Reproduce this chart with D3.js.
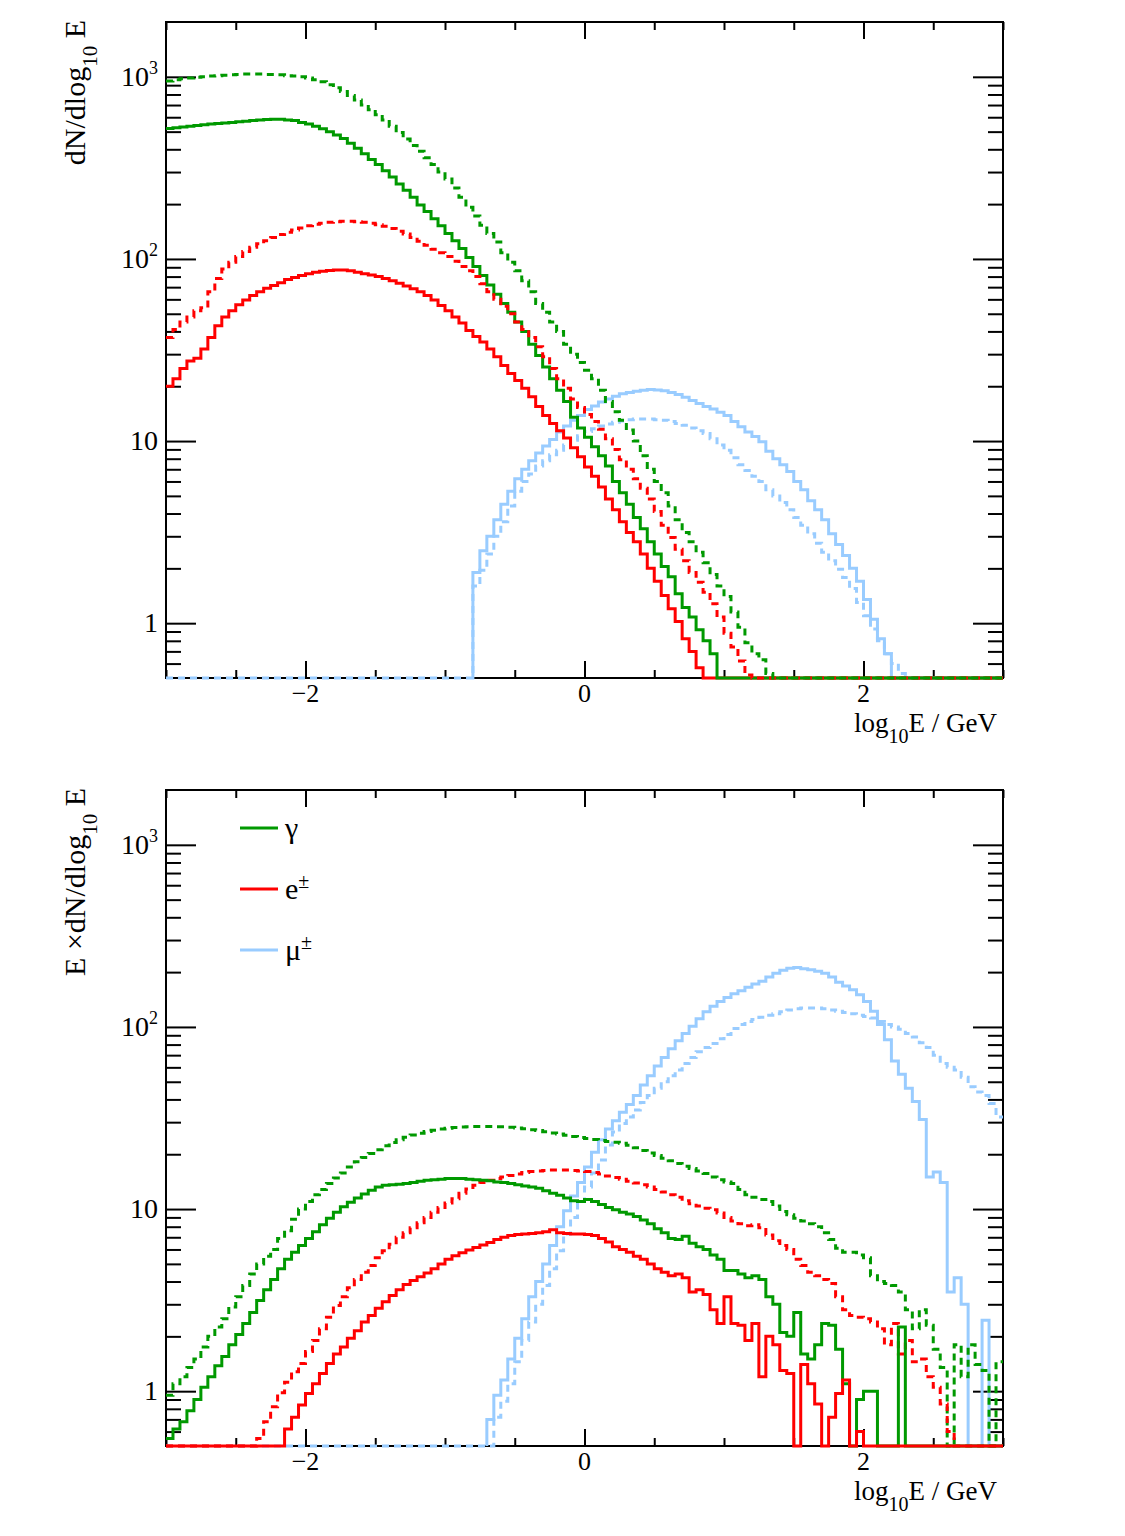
<!DOCTYPE html>
<html>
<head>
<meta charset="utf-8">
<script src="https://cdn.jsdelivr.net/npm/d3@7"></script>
<style>
  body { margin: 0; background: #fff; }
  text { font-family: "Liberation Serif", "DejaVu Serif", serif; fill: #000; }
</style>
</head>
<body>
<svg id="chart"></svg>
<script>
// canvas size
var width = 1125;
var height = 1536;

// histogram binning in log10(E/GeV)
var binWidth = 0.05;
var xDomain = [-3, 3];
var yDomain = [0.5, 2000];

// axis ticks and labels
var xMajor = [-2, 0, 2];
var xMinor = [-3, -2.5, -1.5, -1, -0.5, 0.5, 1, 1.5, 2.5, 3];
var xLabels = ["\u22122", "0", "2"];
var yMajor = [1, 10, 100, 1000];
var yLabels = [{ base: "1", exp: "" }, { base: "10", exp: "" }, { base: "10", exp: "2" }, { base: "10", exp: "3" }];
var yMinor = [0.6, 0.7, 0.8, 0.9, 2, 3, 4, 5, 6, 7, 8, 9, 20, 30, 40, 50, 60, 70, 80, 90,
              200, 300, 400, 500, 600, 700, 800, 900];

// legend
var legendNames = [{ base: "\u03b3", sup: "" }, { base: "e", sup: "\u00b1" }, { base: "\u03bc", sup: "\u00b1" }];

// ---- upper panel: dN/dlog10E, bins of 0.05 starting at "start" ----
var gamTopSolid = [
  520, 525, 530, 535, 540, 545, 550, 555, 558, 562,
  566, 570, 575, 580, 583, 585, 585, 580, 575, 562,
  550, 535, 518, 500, 480, 458, 432, 405, 378, 352,
  330, 305, 282, 258, 238, 218, 198, 182, 166, 152,
  138, 126, 114, 102, 91, 81, 72, 64, 57, 51,
  45, 40, 34, 29.5, 25.5, 22, 19, 16.5, 13.5, 11.8,
  10.5, 9.3, 8.3, 7.3, 6.0, 5.2, 4.5, 3.8, 3.3, 2.8,
  2.4, 2.05, 1.8, 1.45, 1.22, 1.08, 0.92, 0.8, 0.68, 0,
  0, 0, 0, 0, 0, 0, 0, 0, 0, 0,
  0, 0, 0, 0, 0, 0, 0, 0, 0, 0,
  0, 0, 0, 0, 0, 0, 0, 0, 0, 0,
  0, 0, 0, 0, 0, 0, 0, 0, 0, 0
];
var gamTopDash = [
  950, 965, 975, 985, 995, 1000, 1010, 1015, 1020, 1025,
  1030, 1035, 1035, 1035, 1030, 1030, 1025, 1015, 1010, 1000,
  985, 965, 940, 905, 870, 830, 790, 745, 700, 660,
  620, 580, 535, 495, 455, 420, 390, 360, 330, 300,
  275, 245, 218, 192, 172, 153, 138, 124, 108, 96,
  86, 76, 66, 57, 51, 45, 40, 34, 30, 27,
  24.5, 22, 19, 16.5, 14.5, 13, 11.5, 10, 8.3, 7.0,
  6.0, 5.2, 4.4, 3.7, 3.15, 2.8, 2.45, 2.15, 1.85, 1.6,
  1.4, 1.15, 0.95, 0.78, 0.68, 0.63, 0.53, 0, 0, 0,
  0, 0, 0, 0, 0, 0, 0, 0, 0, 0,
  0, 0, 0, 0, 0, 0, 0, 0, 0, 0,
  0, 0, 0, 0, 0, 0, 0, 0, 0, 0
];
var elTopSolid = [
  20, 22, 25, 27.5, 28.5, 32, 37, 43, 48, 52,
  56, 59.5, 63, 66, 69, 71.5, 74, 77, 79, 81,
  83, 84.5, 85.5, 86.5, 87, 87, 86, 84.5, 83, 81.5,
  80, 78, 76, 73.5, 71, 68.5, 66, 63, 59.5, 55.5,
  52, 48, 44.5, 40.5, 37.5, 35, 32, 29, 26, 23.5,
  21.5, 19.5, 17.5, 15.5, 13.8, 12.5, 11.4, 10.4, 9.2, 8.2,
  7.2, 6.4, 5.6, 4.8, 4.2, 3.6, 3.15, 2.8, 2.4, 2.0,
  1.7, 1.42, 1.2, 1.02, 0.82, 0.7, 0.57, 0, 0, 0,
  0, 0, 0, 0, 0, 0, 0, 0, 0, 0,
  0, 0, 0, 0, 0, 0, 0, 0, 0, 0,
  0, 0, 0, 0, 0, 0, 0, 0, 0, 0,
  0, 0, 0, 0, 0, 0, 0, 0, 0, 0
];
var elTopDash = [
  37, 41, 45, 48, 52, 54, 66, 78, 88, 96,
  103, 110, 116, 121, 126, 131, 136, 140, 144, 148,
  152, 155, 157, 159, 160, 161, 161, 160, 159, 157,
  154, 151, 147, 142, 137, 131, 125, 119, 113, 108,
  103, 97, 91, 86, 80, 73, 66, 60, 55, 50,
  45, 41, 37, 33, 29, 25, 22, 19.5, 17, 15.3,
  14, 12.8, 11.6, 10.3, 9.0, 7.9, 7.0, 6.2, 5.5, 4.8,
  4.1, 3.45, 2.95, 2.55, 2.2, 1.9, 1.68, 1.48, 1.28, 1.08,
  0.88, 0.74, 0.62, 0.52, 0, 0, 0, 0, 0, 0,
  0, 0, 0, 0, 0, 0, 0, 0, 0, 0,
  0, 0, 0, 0, 0, 0, 0, 0, 0, 0,
  0, 0, 0, 0, 0, 0, 0, 0, 0, 0
];
// starts at -0.8
var muTopSolid = [
  1.9, 2.5, 3.0, 3.7, 4.5, 5.3, 6.2, 7.0, 7.8, 8.6,
  9.4, 10.2, 11.2, 12.1, 13.0, 13.8, 14.9, 15.6, 16.4, 17.0,
  17.6, 18.2, 18.5, 18.8, 19.0, 19.2, 19.1, 18.9, 18.5, 18.0,
  17.4, 16.7, 16.1, 15.5, 15.0, 14.4, 13.8, 12.8, 12.0, 11.2,
  10.6, 9.9, 8.8, 8.0, 7.4, 6.8, 6.0, 5.4, 4.7, 4.2,
  3.7, 3.1, 2.7, 2.35, 2.0, 1.7, 1.35, 1.05, 0.82, 0.68,
  0, 0, 0, 0, 0, 0, 0, 0, 0, 0,
  0, 0, 0, 0, 0, 0
];
var muTopDash = [
  0, 0, 0, 0, 0, 0, 0, 0, 0, 0,
  0, 0, 0, 0, 0, 0, 0, 0, 0, 0,
  0, 0, 0, 0, 0, 0, 0, 0, 0, 0,
  0, 0, 0, 0, 0, 0, 0, 0, 0, 0,
  0, 0, 0, 0, 1.6, 1.95, 2.4, 3.0, 3.6, 4.4,
  5.3, 6.0, 6.6, 7.3, 7.8, 8.4, 8.9, 9.5, 10.1, 10.7,
  11.3, 11.7, 12.1, 12.4, 12.7, 12.9, 13.1, 13.2, 13.2, 13.2,
  13.1, 13.0, 12.8, 12.5, 12.2, 11.8, 11.4, 11.0, 10.3, 9.5,
  8.9, 8.1, 7.4, 6.9, 6.4, 6.0, 5.4, 5.0, 4.6, 4.2,
  3.8, 3.45, 3.1, 2.75, 2.45, 2.2, 1.98, 1.78, 1.55, 1.3,
  1.1, 0.93, 0.8, 0.68, 0.6, 0.53, 0, 0, 0, 0,
  0, 0, 0, 0, 0, 0, 0, 0, 0, 0
];

// ---- lower panel: E x dN/dlog10E ----
var gamBotSolid = [
  0.55, 0.62, 0.68, 0.78, 0.9, 1.05, 1.2, 1.38, 1.55, 1.8,
  2.05, 2.35, 2.7, 3.15, 3.6, 4.1, 4.7, 5.3, 5.8, 6.3,
  6.9, 7.5, 8.2, 8.9, 9.6, 10.3, 10.9, 11.5, 12.1, 12.7,
  13.2, 13.5, 13.6, 13.7, 13.8, 14.0, 14.2, 14.4, 14.5, 14.6,
  14.7, 14.7, 14.7, 14.6, 14.5, 14.4, 14.3, 14.1, 14.0, 13.8,
  13.6, 13.4, 13.2, 13.0, 12.6, 12.2, 11.9, 11.5, 11.1, 11.0,
  11.3, 11.0, 10.6, 10.2, 9.9, 9.6, 9.4, 9.1, 8.7, 8.3,
  7.8, 7.4, 6.9, 6.8, 7.1, 6.5, 6.2, 6.0, 5.6, 5.3,
  4.6, 4.6, 4.4, 4.2, 4.3, 4.1, 3.3, 3.0, 2.1, 2.0,
  2.7, 1.6, 1.5, 1.8, 2.35, 2.3, 1.7, 1.1, 0, 0.9,
  1.0, 1.0, 0, 0, 0, 2.25, 0, 0, 0, 0,
  0, 0, 0, 0, 0, 0, 0, 0, 0, 0
];
var gamBotDash = [
  0.95, 1.1, 1.2, 1.35, 1.5, 1.75, 2.0, 2.25, 2.5, 2.9,
  3.3, 3.8, 4.4, 5.0, 5.5, 6.0, 6.9, 7.6, 8.8, 10.0,
  11.0, 12.0, 12.8, 13.8, 14.8, 15.8, 17.0, 18.2, 19.2, 20.2,
  21.2, 22.3, 23.2, 24.0, 24.8, 25.5, 26.1, 26.7, 27.1, 27.5,
  27.8, 28.0, 28.2, 28.3, 28.4, 28.4, 28.4, 28.3, 28.3, 28.1,
  27.9, 27.6, 27.3, 27.0, 26.6, 26.2, 25.8, 25.4, 25.0, 24.7,
  24.4, 24.1, 23.8, 23.5, 23.3, 23.0, 22.4, 21.7, 21.0, 20.3,
  19.7, 19.0, 18.4, 17.8, 17.2, 16.7, 16.2, 15.7, 15.0, 14.5,
  14.1, 13.8, 12.8, 12.0, 11.6, 11.3, 11.0, 10.4, 9.7, 9.3,
  8.9, 8.6, 8.3, 8.0, 7.4, 6.8, 6.1, 5.8, 5.8, 5.6,
  5.4, 4.3, 4.0, 3.9, 3.8, 3.5, 2.8, 2.2, 2.8, 2.3,
  1.7, 1.35, 0, 1.8, 1.2, 1.8, 1.4, 1.3, 0, 1.45
];
var elBotSolid = [
  0, 0, 0, 0, 0, 0, 0, 0, 0, 0,
  0, 0, 0, 0, 0, 0, 0, 0.62, 0.72, 0.84,
  0.97, 1.1, 1.25, 1.42, 1.6, 1.75, 1.95, 2.15, 2.4, 2.6,
  2.85, 3.1, 3.35, 3.6, 3.85, 4.05, 4.25, 4.45, 4.7, 5.0,
  5.3, 5.55, 5.75, 5.95, 6.15, 6.35, 6.55, 6.8, 7.0, 7.15,
  7.25, 7.3, 7.35, 7.4, 7.5, 7.7, 7.4, 7.35, 7.3, 7.3,
  7.25, 7.15, 6.9, 6.6, 6.2, 6.0, 5.8, 5.5, 5.3, 5.0,
  4.7, 4.5, 4.3, 4.4, 4.2, 3.5, 3.6, 3.4, 2.8, 2.35,
  3.3, 2.35, 2.3, 1.9, 2.35, 1.2, 2.0, 1.8, 1.3, 1.25,
  0, 1.4, 1.1, 0.85, 0, 0.72, 0.97, 1.15, 0, 0.6,
  0, 0, 0, 0, 0, 0, 0, 0, 0, 0,
  0, 0, 0, 0, 0, 0, 0, 0, 0, 0
];
var elBotDash = [
  0, 0, 0, 0, 0, 0, 0, 0, 0, 0,
  0, 0, 0, 0.55, 0.68, 0.82, 0.98, 1.12, 1.28, 1.42,
  1.65, 1.9, 2.2, 2.55, 2.95, 3.3, 3.7, 4.1, 4.5, 4.9,
  5.4, 5.9, 6.4, 7.0, 7.4, 7.9, 8.4, 9.0, 9.6, 10.2,
  10.8, 11.4, 12.2, 12.9, 13.5, 14.0, 14.4, 14.7, 15.0, 15.3,
  15.6, 15.9, 16.1, 16.2, 16.3, 16.4, 16.4, 16.4, 16.3, 16.2,
  16.1, 15.9, 15.6, 15.2, 14.9, 14.6, 14.2, 13.9, 13.6, 13.2,
  12.8, 12.4, 12.0, 11.6, 11.1, 10.7, 10.4, 10.1, 9.9, 9.5,
  9.0, 8.6, 8.3, 8.1, 8.2, 7.9, 7.2, 6.7, 6.3, 6.0,
  5.3, 4.9, 4.5, 4.3, 4.1, 3.9, 3.3, 2.8, 2.6, 2.55,
  2.5, 2.4, 2.2, 1.8, 2.35, 1.6, 1.9, 1.45, 1.5, 1.2,
  1.05, 0.85, 0.6, 0, 0, 0, 0, 0, 0, 0
];
// starts at -0.7
var muBotSolid = [
  0.7, 0.95, 1.15, 1.5, 1.95, 2.5, 3.3, 4.0, 5.0, 6.3,
  8.0, 9.8, 11.8, 14.0, 17.0, 20.5, 24.0, 27.5, 30.5, 34,
  37.5, 42, 48, 54, 61, 68, 76, 84, 92, 101,
  111, 121, 130, 138, 145, 152, 158, 165, 172, 178,
  188, 197, 205, 210, 212, 209, 206, 202, 197, 188,
  176, 168, 160, 150, 138, 122, 103, 85, 65, 55,
  46, 39, 31, 15, 16, 14, 3.5, 4.2, 3.0, 0,
  0, 2.45, 0, 0
];
var muBotDash = [
  0, 0, 0, 0, 0, 0, 0, 0, 0, 0,
  0, 0, 0, 0, 0, 0, 0, 0, 0, 0,
  0, 0, 0, 0, 0, 0, 0, 0, 0, 0,
  0, 0, 0, 0, 0, 0, 0, 0, 0, 0,
  0, 0, 0, 0, 0, 0, 0, 0.72, 0.88, 1.1,
  1.45, 1.9, 2.4, 3.0, 3.8, 4.7, 5.9, 7.3, 9.0, 11.0,
  13.2, 15.8, 18.6, 22.5, 26.5, 29.5, 32, 35, 38.5, 42,
  46, 50, 54, 58, 63, 68, 73, 77, 81, 86,
  91, 98, 103, 107, 110, 113, 116, 118, 121, 124,
  126, 127, 127, 127, 126, 124, 122, 120, 118, 116,
  114, 112, 107, 103, 100, 97, 92, 88, 82, 77,
  70, 63, 60, 58, 53, 47, 44, 42, 38, 32
];

var colGamma = "#009900";
var colEl = "#ff0000";
var colMu = "#99ccff";

// frame positions of the two pads
var frameLeft = 166, frameRight = 1003;

var panels = [
  {
    top: 22, bottom: 678,
    title: [{ t: "dN/dlog" }, { t: "10", sub: true }, { t: " E", back: true }],
    legend: false,
    series: [
      { vals: muTopSolid, start: -0.8, color: colMu, dash: false },
      { vals: muTopDash, start: -3, color: colMu, dash: true },
      { vals: elTopSolid, start: -3, color: colEl, dash: false },
      { vals: gamTopSolid, start: -3, color: colGamma, dash: false },
      { vals: elTopDash, start: -3, color: colEl, dash: true },
      { vals: gamTopDash, start: -3, color: colGamma, dash: true }
    ]
  },
  {
    top: 790, bottom: 1446,
    title: [{ t: "E \u00d7dN/dlog" }, { t: "10", sub: true }, { t: " E", back: true }],
    legend: true,
    series: [
      { vals: muBotSolid, start: -0.7, color: colMu, dash: false },
      { vals: muBotDash, start: -3, color: colMu, dash: true },
      { vals: gamBotDash, start: -3, color: colGamma, dash: true },
      { vals: elBotDash, start: -3, color: colEl, dash: true },
      { vals: gamBotSolid, start: -3, color: colGamma, dash: false },
      { vals: elBotSolid, start: -3, color: colEl, dash: false }
    ]
  }
];

var svg = d3.select("#chart")
    .attr("width", width)
    .attr("height", height)
    .attr("viewBox", "0 0 " + width + " " + height);

svg.append("rect")
    .attr("width", width)
    .attr("height", height)
    .attr("fill", "#fff");

var x = d3.scaleLinear().domain(xDomain).range([frameLeft, frameRight]);

panels.forEach(function(p, pi) {
  var y = d3.scaleLog().domain(yDomain).range([p.bottom, p.top]);
  var g = svg.append("g").attr("class", "pad" + pi);

  // frame
  g.append("rect")
      .attr("x", frameLeft)
      .attr("y", p.top)
      .attr("width", frameRight - frameLeft)
      .attr("height", p.bottom - p.top)
      .attr("fill", "none")
      .attr("stroke", "#000")
      .attr("stroke-width", 2);

  // ticks drawn inwards on all four sides, ROOT style
  function ticks(axis, tx, ty) {
    var a = g.append("g")
        .attr("transform", "translate(" + tx + "," + ty + ")")
        .call(axis.tickFormat(""));
    a.select(".domain").remove();
    a.selectAll("line").attr("stroke", "#000").attr("stroke-width", 2);
  }
  ticks(d3.axisLeft(y).tickValues(yMajor).tickSizeInner(-30).tickSizeOuter(0), frameLeft, 0);
  ticks(d3.axisLeft(y).tickValues(yMinor).tickSizeInner(-15).tickSizeOuter(0), frameLeft, 0);
  ticks(d3.axisRight(y).tickValues(yMajor).tickSizeInner(-30).tickSizeOuter(0), frameRight, 0);
  ticks(d3.axisRight(y).tickValues(yMinor).tickSizeInner(-15).tickSizeOuter(0), frameRight, 0);
  ticks(d3.axisBottom(x).tickValues(xMajor).tickSizeInner(-17).tickSizeOuter(0), 0, p.bottom);
  ticks(d3.axisBottom(x).tickValues(xMinor).tickSizeInner(-8).tickSizeOuter(0), 0, p.bottom);
  ticks(d3.axisTop(x).tickValues(xMajor).tickSizeInner(-17).tickSizeOuter(0), 0, p.top);
  ticks(d3.axisTop(x).tickValues(xMinor).tickSizeInner(-8).tickSizeOuter(0), 0, p.top);

  // x tick labels
  g.selectAll("text.xlab")
      .data(xMajor)
    .enter().append("text")
      .attr("class", "xlab")
      .attr("x", function(d) { return x(d); })
      .attr("y", p.bottom + 24)
      .attr("text-anchor", "middle")
      .style("font-size", "26px")
      .text(function(d, i) { return xLabels[i]; });

  // y tick labels, powers of ten with superscripts
  var yl = g.selectAll("text.ylab")
      .data(yMajor)
    .enter().append("text")
      .attr("class", "ylab")
      .attr("x", 158)
      .attr("y", function(d) { return y(d) + 9; })
      .attr("text-anchor", "end")
      .style("font-size", "28px");
  yl.append("tspan")
      .text(function(d, i) { return yLabels[i].base; });
  yl.append("tspan")
      .attr("dy", -12)
      .style("font-size", "18px")
      .text(function(d, i) { return yLabels[i].exp; });

  // x axis title, kept clear of the "2" tick label above it
  var xt = g.append("text")
      .attr("x", 997)
      .attr("y", p.bottom + 54)
      .attr("text-anchor", "end")
      .style("font-size", "27px");
  xt.append("tspan").text("log");
  xt.append("tspan").attr("dy", 11).style("font-size", "20px").text("10");
  xt.append("tspan").attr("dy", -11).text("E / GeV");

  // y axis title
  var yt = g.append("text")
      .attr("transform", "translate(85," + (p.top - 2) + ") rotate(-90)")
      .attr("text-anchor", "end")
      .style("font-size", "30px");
  p.title.forEach(function(part) {
    yt.append("tspan")
        .attr("dy", part.sub ? 12 : (part.back ? -12 : 0))
        .style("font-size", part.sub ? "21px" : "30px")
        .text(part.t);
  });

  // histograms as step lines, empty bins sit on the lower frame edge
  var clipId = "clip" + pi;
  g.append("clipPath")
      .attr("id", clipId)
    .append("rect")
      .attr("x", frameLeft)
      .attr("y", p.top)
      .attr("width", frameRight - frameLeft)
      .attr("height", p.bottom - p.top + 2);

  var line = d3.line()
      .x(function(d) { return x(d[0]); })
      .y(function(d) { return y(Math.max(d[1], yDomain[0])); })
      .curve(d3.curveStepAfter);

  var hg = g.append("g").attr("clip-path", "url(#" + clipId + ")");
  p.series.forEach(function(s) {
    var pts = [];
    // a histogram that begins inside the frame rises from the floor
    if (s.start > xDomain[0]) pts.push([s.start, 0]);
    s.vals.forEach(function(v, i) { pts.push([s.start + i * binWidth, v]); });
    var last = s.vals[s.vals.length - 1];
    var end = s.start + s.vals.length * binWidth;
    pts.push([end, last]);
    if (end < xDomain[1] - 1e-9) pts.push([end, 0]);

    hg.append("path")
        .datum(pts)
        .attr("d", line)
        .attr("fill", "none")
        .attr("stroke", s.color)
        .attr("stroke-width", 3)
        .attr("stroke-dasharray", s.dash ? "7,5" : null);
  });

  // legend (lower pad only)
  if (p.legend) {
    var legColors = [colGamma, colEl, colMu];
    var legY = [828, 889, 950];
    legColors.forEach(function(c, i) {
      g.append("line")
          .attr("x1", 240).attr("x2", 278)
          .attr("y1", legY[i]).attr("y2", legY[i])
          .attr("stroke", c)
          .attr("stroke-width", 3);
      var t = g.append("text")
          .attr("x", 285)
          .attr("y", legY[i] + 10)
          .style("font-size", "30px");
      t.append("tspan").text(legendNames[i].base);
      t.append("tspan")
          .attr("dy", -11)
          .style("font-size", "20px")
          .text(legendNames[i].sup);
    });
  }
});
</script>
</body>
</html>
